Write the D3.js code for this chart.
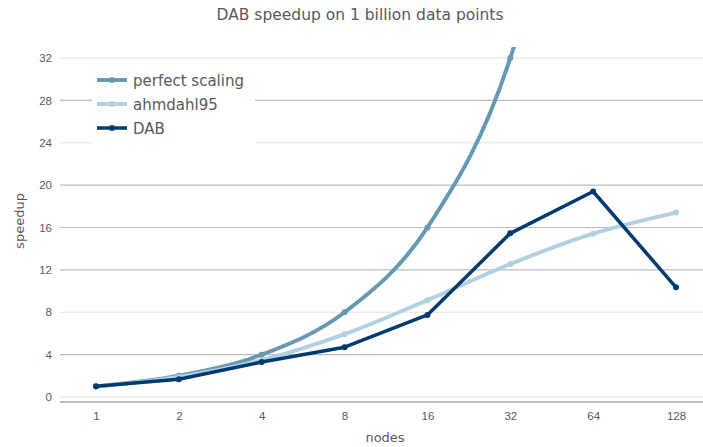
<!DOCTYPE html>
<html>
<head>
<meta charset="utf-8">
<script src="https://cdn.jsdelivr.net/npm/d3@7"></script>
<style>
  body { margin: 0; background: #fff; }
  #chart { width: 703px; height: 447px; }
</style>
</head>
<body>
<div id="chart"></div>
<script>
// dati
const nodes = ["1", "2", "4", "8", "16", "32", "64", "128"];
const perfectScaling = [1, 2, 4, 8, 16, 32, 64, 128];
const ahmdahl95 = [1, 1.9, 3.48, 5.93, 9.14, 12.55, 15.42, 17.41];
const dab = [1.02, 1.68, 3.3, 4.7, 7.75, 15.45, 19.4, 10.35];
const yTicks = [0, 4, 8, 12, 16, 20, 24, 28, 32];

const seriesList = [
    { name: "perfect scaling", values: perfectScaling, color: "#6699b4", width: 4, smooth: true },
    { name: "ahmdahl95", values: ahmdahl95, color: "#b3cfe2", width: 4, smooth: true },
    { name: "DAB", values: dab, color: "#003b6f", width: 3.5, smooth: false }
];

const width = 703, height = 447;
const plotLeft = 60, plotRight = 703, plotTop = 47, plotBottom = 402;
const textColor = "#595959";

const svg = d3.select("#chart").append("svg")
    .attr("width", width)
    .attr("height", height)
    .style("font-family", "'DejaVu Sans', Verdana, sans-serif");

// scale
const x = d3.scalePoint().domain(nodes).range([96, 676]);
const y = d3.scaleLinear().domain([-0.47, 33.04]).range([plotBottom, plotTop]);

// griglia
const gridColor = d => (d % 8 === 0 && d !== 16) ? "#e3e3e3" : "#bdbdbd";
svg.append("g")
    .selectAll("line").data(yTicks).join("line")
    .attr("x1", plotLeft).attr("x2", plotRight)
    .attr("y1", d => y(d)).attr("y2", d => y(d))
    .attr("stroke", gridColor)
    .attr("stroke-width", 1.2);

// asse y
const yAxis = svg.append("g")
    .attr("transform", `translate(${plotLeft},0)`)
    .call(d3.axisLeft(y).tickValues(yTicks).tickSize(0).tickPadding(8));
yAxis.select(".domain").remove();
yAxis.selectAll("text").attr("fill", textColor).style("font-size", "11.5px");

// asse x
const xAxis = svg.append("g")
    .attr("transform", `translate(0,${plotBottom})`)
    .call(d3.axisBottom(x).tickSize(0).tickPadding(10));
xAxis.select(".domain").remove();
xAxis.selectAll("text").attr("fill", textColor).style("font-size", "11.5px");
svg.append("line")
    .attr("x1", plotLeft).attr("x2", plotRight)
    .attr("y1", plotBottom).attr("y2", plotBottom)
    .attr("stroke", "#a6a6a6").attr("stroke-width", 1.5);

// linee
svg.append("defs").append("clipPath").attr("id", "plot-clip")
    .append("rect").attr("x", plotLeft).attr("y", plotTop)
    .attr("width", plotRight - plotLeft).attr("height", plotBottom - plotTop);

const plot = svg.append("g").attr("clip-path", "url(#plot-clip)");
seriesList.forEach(s => {
    const line = d3.line()
        .x((d, i) => x(nodes[i]))
        .y(d => y(d))
        .curve(s.smooth ? d3.curveCatmullRom.alpha(0) : d3.curveLinear);
    plot.append("path")
        .datum(s.values)
        .attr("d", line)
        .attr("fill", "none")
        .attr("stroke", s.color)
        .attr("stroke-width", s.width)
        .attr("stroke-linejoin", "round");
    plot.selectAll(null).data(s.values).join("circle")
        .attr("cx", (d, i) => x(nodes[i]))
        .attr("cy", d => y(d))
        .attr("r", 3)
        .attr("fill", s.color);
});

// legenda
svg.append("rect")
    .attr("x", 92).attr("y", 68)
    .attr("width", 163).attr("height", 82)
    .attr("fill", "#fff");
const legend = svg.append("g").attr("transform", "translate(97,80)");
seriesList.forEach((s, i) => {
    const g = legend.append("g").attr("transform", `translate(0,${i * 24})`);
    g.append("line").attr("x1", 0).attr("x2", 30)
        .attr("stroke", s.color).attr("stroke-width", s.width);
    g.append("circle").attr("cx", 15).attr("r", 3).attr("fill", s.color);
    g.append("text").attr("x", 36).attr("y", 6)
        .text(s.name)
        .attr("fill", textColor)
        .style("font-size", "15px");
});

// titoli
svg.append("text")
    .attr("x", 360).attr("y", 20)
    .attr("text-anchor", "middle")
    .text("DAB speedup on 1 billion data points")
    .attr("fill", textColor)
    .style("font-size", "15.5px");

svg.append("text")
    .attr("x", 385).attr("y", 442)
    .attr("text-anchor", "middle")
    .text("nodes")
    .attr("fill", textColor)
    .style("font-size", "13px");

svg.append("text")
    .attr("transform", "rotate(-90)")
    .attr("x", -221).attr("y", 24)
    .attr("text-anchor", "middle")
    .text("speedup")
    .attr("fill", textColor)
    .style("font-size", "13px");
</script>
</body>
</html>
